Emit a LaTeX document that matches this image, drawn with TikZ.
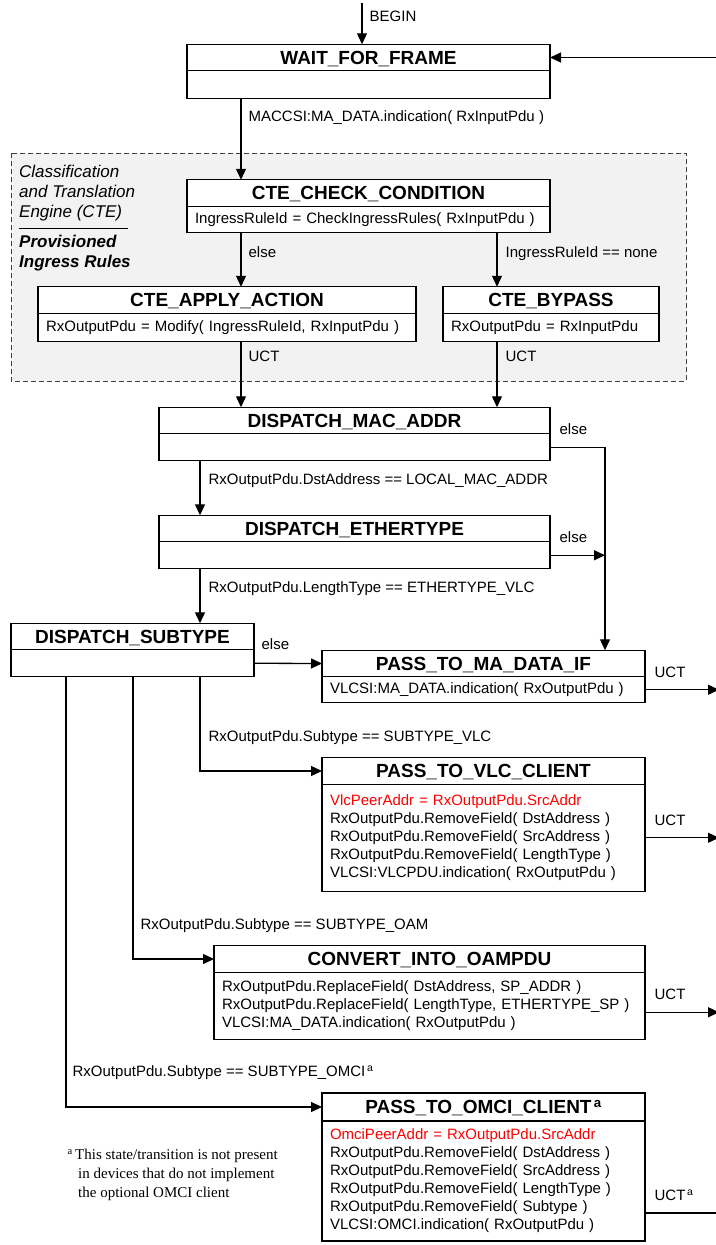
\documentclass[tikz,border=0pt]{standalone}
\usepackage{fontspec}
\setmainfont{Liberation Sans}
\newfontfamily\notefont{Liberation Serif}
\usetikzlibrary{arrows.meta, positioning}

\begin{document}
\begin{tikzpicture}[x=1pt, y=-1pt, font=\fontsize{15}{18}\selectfont]
\tikzstyle{statename} = [rectangle, draw, fill=white, line width=1.4pt, outer sep=0pt, inner sep=0pt, minimum height=26.5pt, text height=13.6pt, text depth=0pt, font=\fontsize{19}{22}\selectfont\bfseries]
\tikzstyle{statebody} = [rectangle, draw, fill=white, line width=1.4pt, outer sep=0pt, inner xsep=8pt, inner ysep=0pt, align=left]
\tikzstyle{arrow} = [line width=1.3pt, -{Triangle[length=11pt,width=10pt]}]
\tikzstyle{lbl} = [inner sep=0pt, anchor=west, text height=11pt, text depth=3pt]
\tikzstyle{exitlbl} = [lbl, xshift=9pt, yshift=16.5pt]
\tikzstyle{region} = [draw=black!75, fill=black!5, line width=0.8pt, dash pattern=on 5pt off 3pt]

\useasboundingbox (0,0) rectangle (715,1245);

% lanes of the vertical transitions
\coordinate (laneA) at (241,0);
\coordinate (laneB) at (497,0);
\coordinate (laneC) at (200,0);
\coordinate (laneD) at (605,0);
\coordinate (laneE) at (133,0);
\coordinate (laneF) at (66,0);
\coordinate (edge) at (719,0);
\coordinate (begin) at (362,3);
\coordinate (back) at (719,57.5);

% CTE frame
\draw [region] (11,153) rectangle (686,381);
\node (ctename) [anchor=north west, inner sep=0pt, align=left, font=\fontsize{17}{20}\selectfont\itshape] at (19,165) {Classification\\and Translation\\Engine (CTE)};
\draw [line width=0.8pt] (19,228) -- (128,228);
\node (cterules) [anchor=north west, inner sep=0pt, align=left, font=\fontsize{17}{20}\selectfont\bfseries\itshape] at (19,235) {Provisioned\\Ingress Rules};

% states
\node (wait) [statename, minimum width=363pt] at (368.5,57.5) {WAIT\_FOR\_FRAME};
\node (waitb) [statebody, minimum width=363pt, minimum height=28pt, below=0pt of wait] {};

\node (check) [statename, minimum width=363pt] at (368.5,193) {CTE\_CHECK\_CONDITION};
\node (checkb) [statebody, text width=347pt, minimum height=26pt, below=0pt of check] {IngressRuleId = CheckIngressRules( RxInputPdu )};

\node (apply) [statename, minimum width=378pt] at (227,300) {CTE\_APPLY\_ACTION};
\node (applyb) [statebody, text width=362pt, minimum height=28pt, below=0pt of apply] {RxOutputPdu = Modify( IngressRuleId, RxInputPdu )};

\node (bypass) [statename, minimum width=216pt] at (551,300) {CTE\_BYPASS};
\node (bypassb) [statebody, text width=200pt, minimum height=28pt, below=0pt of bypass] {RxOutputPdu = RxInputPdu};

\node (mac) [statename, minimum width=391pt] at (354.5,420.5) {DISPATCH\_MAC\_ADDR};
\node (macb) [statebody, minimum width=391pt, minimum height=27pt, below=0pt of mac] {};

\node (ether) [statename, minimum width=391pt] at (354.5,528.5) {DISPATCH\_ETHERTYPE};
\node (etherb) [statebody, minimum width=391pt, minimum height=27pt, below=0pt of ether] {};

\node (subtype) [statename, minimum width=243pt] at (132.5,636.5) {DISPATCH\_SUBTYPE};
\node (subtypeb) [statebody, minimum width=243pt, minimum height=27pt, below=0pt of subtype] {};

\node (madata) [statename, minimum width=323pt] at (483.5,663.5) {PASS\_TO\_MA\_DATA\_IF};
\node (madatab) [statebody, text width=307pt, minimum height=26pt, below=0pt of madata] {VLCSI:MA\_DATA.indication( RxOutputPdu )};

\node (vlc) [statename, minimum width=323pt] at (483.5,771) {PASS\_TO\_VLC\_CLIENT};
\node (vlcb) [statebody, text width=307pt, minimum height=107pt, below=0pt of vlc] {\textcolor{red}{VlcPeerAddr = RxOutputPdu.SrcAddr}\\
RxOutputPdu.RemoveField( DstAddress )\\
RxOutputPdu.RemoveField( SrcAddress )\\
RxOutputPdu.RemoveField( LengthType )\\
VLCSI:VLCPDU.indication( RxOutputPdu )};

\node (oam) [statename, minimum width=431pt] at (429.5,959) {CONVERT\_INTO\_OAMPDU};
\node (oamb) [statebody, text width=415pt, minimum height=67pt, below=0pt of oam] {RxOutputPdu.ReplaceField( DstAddress, SP\_ADDR )\\
RxOutputPdu.ReplaceField( LengthType, ETHERTYPE\_SP )\\
VLCSI:MA\_DATA.indication( RxOutputPdu )};

\node (omci) [statename, minimum width=323pt, minimum height=28pt] at (483.5,1107) {PASS\_TO\_OMCI\_CLIENT\textsuperscript{\,a}};
\node (omcib) [statebody, text width=307pt, minimum height=120pt, below=0pt of omci] {\textcolor{red}{OmciPeerAddr = RxOutputPdu.SrcAddr}\\
RxOutputPdu.RemoveField( DstAddress )\\
RxOutputPdu.RemoveField( SrcAddress )\\
RxOutputPdu.RemoveField( LengthType )\\
RxOutputPdu.RemoveField( Subtype )\\
VLCSI:OMCI.indication( RxOutputPdu )};

% footnote
\node (note) [anchor=north west, inner sep=0pt, align=left, font=\notefont\fontsize{15}{19}\selectfont] at (75,1149) {\llap{\textsuperscript{a}\,}This state/transition is not present\\
\hspace{3pt}in devices that do not implement\\
\hspace{3pt}the optional OMCI client};

% transitions
\draw [arrow] (begin) -- node [lbl, pos=0.34, right=7pt] {BEGIN} (begin |- wait.north);
\draw [arrow] (back) -- (wait.east);
\draw [arrow] (waitb.south -| laneA) -- node [lbl, pos=0.23, right=7pt] {MACCSI:MA\_DATA.indication( RxInputPdu )} (check.north -| laneA);
\draw [arrow] (checkb.south -| laneA) -- node [lbl, pos=0.39, right=7pt] {else} (apply.north -| laneA);
\draw [arrow] (checkb.south -| laneB) -- node [lbl, pos=0.39, right=8pt] {IngressRuleId == none} (bypass.north -| laneB);
\draw [arrow] (applyb.south -| laneA) -- node [lbl, pos=0.24, right=7pt] {UCT} (mac.north -| laneA);
\draw [arrow] (bypassb.south -| laneB) -- node [lbl, pos=0.24, right=8pt] {UCT} (mac.north -| laneB);
\draw [arrow] (macb.east) node [exitlbl] {else} -- (macb.east -| laneD) -- (madata.north -| laneD);
\draw [arrow] (macb.south -| laneC) -- node [lbl, pos=0.37, right=8pt] {RxOutputPdu.DstAddress == LOCAL\_MAC\_ADDR} (ether.north -| laneC);
\draw [arrow] (etherb.east) node [exitlbl] {else} -- (etherb.east -| laneD);
\draw [arrow] (etherb.south -| laneC) -- node [lbl, pos=0.37, right=8pt] {RxOutputPdu.LengthType == ETHERTYPE\_VLC} (subtype.north -| laneC);
\draw [arrow] (subtypeb.east) node [lbl, xshift=7pt, yshift=17.5pt] {else} -- (madata.west);
\draw [arrow] (madatab.east) node [exitlbl] {UCT} -- (madatab.east -| edge);
\draw [arrow] (subtypeb.south -| laneC) |- node [lbl, pos=0.32, right=8pt] {RxOutputPdu.Subtype == SUBTYPE\_VLC} (vlc.west);
\draw [arrow] (vlcb.east) node [exitlbl] {UCT} -- (vlcb.east -| edge);
\draw [arrow] (subtypeb.south -| laneE) |- node [lbl, pos=0.44, right=7pt] {RxOutputPdu.Subtype == SUBTYPE\_OAM} (oam.west);
\draw [arrow] ([yshift=-6.5pt]oamb.east) node [exitlbl] {UCT} -- ([yshift=-6.5pt]oamb.east -| edge);
\draw [arrow] (subtypeb.south -| laneF) |- node [lbl, pos=0.46, right=6pt] {RxOutputPdu.Subtype == SUBTYPE\_OMCI\textsuperscript{\,a}} (omci.west);
\draw [arrow] ([yshift=-32pt]omcib.east) node [exitlbl] {UCT\textsuperscript{\,a}} -- ++(90,0);
\end{tikzpicture}
\end{document}
